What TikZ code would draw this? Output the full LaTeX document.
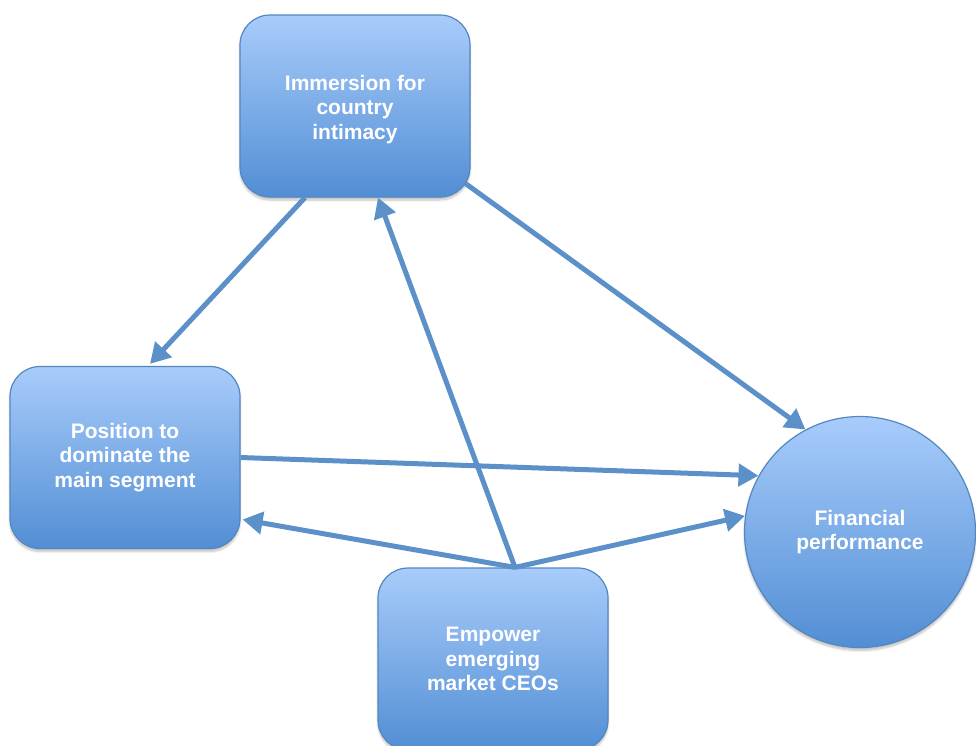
\documentclass[tikz,border=0pt]{standalone}
\usepackage{fontspec}
\setmainfont{Liberation Sans}
\usetikzlibrary{arrows.meta,calc,shadows.blur}
\definecolor{boxtop}{RGB}{168,204,251}
\definecolor{boxbot}{RGB}{82,142,212}
\definecolor{boxedge}{RGB}{84,134,192}
\definecolor{link}{RGB}{92,144,200}
\begin{document}
\begin{tikzpicture}[x=1pt,y=-1pt,
  shape box/.style={top color=boxtop,bottom color=boxbot,draw=boxedge,line width=1.2pt,
    blur shadow={shadow xshift=0pt,shadow yshift=-3pt,shadow blur steps=6,shadow opacity=25},
    text=white,font=\bfseries\fontsize{21}{24.5}\selectfont,align=center,inner sep=0pt},
  stepbox/.style={shape box,rectangle,rounded corners=30pt,minimum width=230pt,minimum height=182pt},
  goal/.style={shape box,circle,minimum size=231pt},
  link/.style={draw=link,line width=5pt,-{Triangle[length=20pt,width=22pt]}}]
\useasboundingbox (0,0) rectangle (976,745);
\clip (0,0) rectangle (976,745);

% factor boxes and the outcome circle
\node[stepbox] (imm) at (355,106) {\\[-3pt]Immersion for\\country\\intimacy};
\node[stepbox] (pos) at (125,457.5) {Position to\\dominate the\\main segment};
\node[stepbox] (emp) at (493,659) {Empower\\emerging\\market CEOs};
\node[goal] (fin) at (860,532) {Financial\\performance};

% common start point on top of the empowerment box
\coordinate (empTop) at ($(emp.north)+(22,0)$);

% influence links
\draw[link] ($(imm.south)+(-50,0)$) -- ($(pos.north)+(25,-2)$);
\draw[link] (empTop) -- ($(imm.south)+(23,0)$);
\draw[link] ($(imm.south east)+(-5,-14)$) -- (fin.118);
\draw[link] (pos.east) -- (fin.151);
\draw[link] (empTop) -- ($(pos.east)+(2,62)$);
\draw[link] (empTop) -- (fin.172);
\end{tikzpicture}
\end{document}
